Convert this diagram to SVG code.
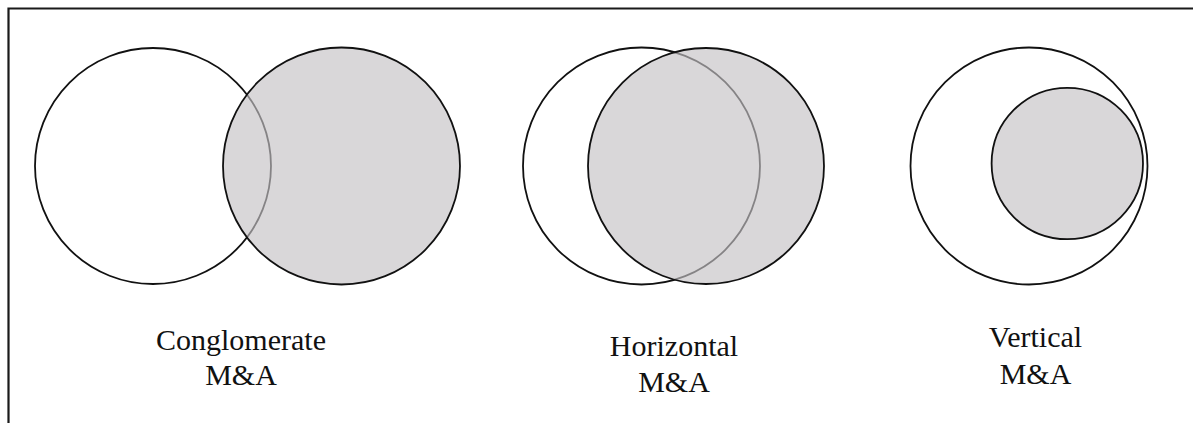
<svg xmlns="http://www.w3.org/2000/svg" width="1193" height="423" viewBox="0 0 1193 423">
  <style>
    .frame { fill: none; stroke: #1a1a1a; stroke-width: 2.2; }
    .base { fill: #ffffff; stroke: #111111; stroke-width: 1.8; }
    .merge { fill: #c4c2c4; fill-opacity: 0.65; stroke: #111111; stroke-width: 1.8; }
    .label { font-family: "Liberation Serif", "Times New Roman", serif; font-size: 30px; fill: #111111; text-anchor: middle; }
  </style>

  <rect x="0" y="0" width="1193" height="423" fill="#ffffff"/>
  <!-- open frame: top edge and left edge -->
  <path class="frame" d="M 8.5 423 L 8.5 8.5 L 1193 8.5"/>

  <g id="conglomerate">
    <circle class="base" cx="153" cy="166" r="118"/>
    <circle class="merge" cx="341.5" cy="166" r="118.5"/>
    <text class="label" x="241" y="350">Conglomerate</text>
    <text class="label" x="241" y="385">M&amp;A</text>
  </g>

  <g id="horizontal">
    <circle class="base" cx="641.5" cy="166" r="118.5"/>
    <circle class="merge" cx="706" cy="166" r="118"/>
    <text class="label" x="674" y="356">Horizontal</text>
    <text class="label" x="674" y="392">M&amp;A</text>
  </g>

  <g id="vertical">
    <circle class="base" cx="1029" cy="166" r="118.5"/>
    <circle class="merge" cx="1067.3" cy="163.5" r="75.7"/>
    <text class="label" x="1035.5" y="347">Vertical</text>
    <text class="label" x="1035.5" y="384">M&amp;A</text>
  </g>

  <g id="connectors"/>
</svg>
